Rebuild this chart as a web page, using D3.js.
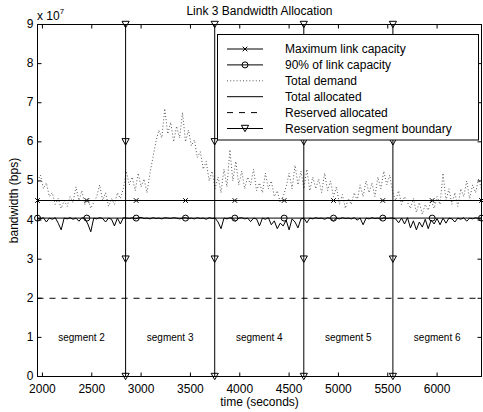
<!DOCTYPE html>
<html>
<head>
<meta charset="utf-8">
<script src="https://cdn.jsdelivr.net/npm/d3@7"></script>
<style>
  html, body { margin: 0; padding: 0; background: #fff; }
  svg { display: block; font-family: "Liberation Sans", Arial, Helvetica, sans-serif; }
</style>
</head>
<body>
<svg id="chart" width="483" height="412"></svg>
<script>
// ---------------- data (bandwidth in units of 1e7 bps) ----------------
const timeStart = 1950;
const timeStep = 30;
const demand = [
  5.0, 5.15, 4.8, 4.95, 4.6, 4.7, 4.4, 4.55, 4.3, 4.5,
  4.35, 4.6, 4.45, 4.85, 4.5, 4.75, 4.4, 4.55, 4.3, 4.45,
  4.6, 4.9, 4.5, 4.7, 4.35, 4.55, 4.4, 4.7, 4.55, 4.8,
  5.25, 4.9, 5.1, 4.75, 5.2, 4.85, 5.05, 4.7, 5.2, 5.6,
  6.0, 6.3, 6.1, 6.85, 6.2, 6.5, 6.0, 6.4, 6.1, 6.75,
  6.0, 6.3, 5.9, 6.05, 5.6, 5.75, 5.3, 5.5, 5.0, 5.25,
  4.8, 5.1, 4.7, 5.3, 4.85, 5.8, 5.0, 5.5, 4.9, 5.25,
  4.8, 5.1, 4.9, 5.3, 4.75, 4.95, 4.7, 5.2, 4.8, 5.0,
  4.6, 4.75, 4.45, 4.6, 4.85, 5.2, 4.8, 5.4, 4.9, 5.25,
  4.8, 5.3, 4.75, 5.1, 4.8, 5.05, 4.7, 5.2, 4.75, 5.0,
  4.6, 4.85, 4.4, 4.65, 4.3, 4.55, 4.4, 4.7, 4.5, 4.9,
  4.6, 5.0, 4.7, 4.95, 4.6, 5.1, 4.8, 5.25, 4.9, 5.15,
  4.7, 4.5, 4.75, 4.4, 4.6, 4.45, 4.3, 4.55, 4.2, 4.45,
  4.15, 4.4, 4.25, 4.5, 4.3, 4.6, 4.4, 5.2, 4.5, 4.8,
  4.4, 4.7, 4.35, 4.8, 4.6, 5.0, 4.55, 4.9, 4.7, 5.05,
  4.8
];
const allocated = [
  4.05, 4.03, 4.06, 3.95, 4.05, 4.02, 4.06, 3.92, 3.75, 4.05,
  4.03, 4.06, 4.02, 4.05, 3.97, 4.06, 4.04, 3.9, 3.7, 4.05,
  4.03, 4.06, 4.04, 3.95, 4.05, 4.02, 3.85, 4.05, 3.9, 4.06,
  4.05, 4.04, 4.06, 4.03, 4.05, 4.07, 4.04, 4.05, 4.03, 4.06,
  4.04, 4.05, 4.03, 4.06, 4.05, 4.04, 4.06, 4.05, 4.03, 4.05,
  4.06, 4.04, 4.05, 4.03, 4.06, 4.04, 4.05, 4.02, 4.06, 4.04,
  4.05, 3.95, 3.78, 4.05, 4.03, 4.06, 4.04, 3.97, 4.05, 4.06,
  4.03, 4.05, 3.96, 4.05, 4.03, 3.85, 4.05, 4.02, 4.06, 3.88,
  3.98, 3.78, 3.92, 3.85, 4.0, 3.75, 4.03, 3.95, 3.8, 4.03,
  4.05, 3.93, 4.05, 4.03, 4.06, 4.04, 4.05, 4.02, 4.06, 4.04,
  3.98, 4.05, 4.03, 4.06, 4.04, 4.05, 4.03, 4.06, 4.0, 4.05,
  3.88, 4.05, 4.03, 4.06, 4.04, 4.05, 4.02, 4.06, 4.04, 4.05,
  4.05, 4.03, 3.93, 4.05, 3.9, 4.06, 3.8, 3.98, 3.75, 3.95,
  3.82, 4.02, 3.78, 4.0, 3.9, 4.04, 3.88, 4.05, 3.92, 4.05,
  4.03, 3.95, 4.05, 4.02, 4.06, 3.97, 4.05, 4.03, 4.06, 4.04,
  4.05
];
const maxCapacity = 4.5;
const capacity90 = 4.05;
const reservedAllocated = 2.0;
const capMarkerTimes = [1950, 2450, 2950, 3450, 3950, 4450, 4950, 5450, 5950, 6450];
const boundaryTimes = [2843, 3746, 4649, 5552];
const boundaryMarkerValues = [0, 3, 6, 9];
const segmentLabels = ["segment 2", "segment 3", "segment 4", "segment 5", "segment 6"];
const xTicks = [2000, 2500, 3000, 3500, 4000, 4500, 5000, 5500, 6000];
const yTicks = [0, 1, 2, 3, 4, 5, 6, 7, 8, 9];
const legendLabels = ["Maximum link capacity", "90% of link capacity", "Total demand",
                      "Total allocated", "Reserved allocated", "Reservation segment boundary"];

// ---------------- layout ----------------
const svg = d3.select("#chart");
const X0 = 37.5, X1 = 481.5, Y0 = 376.5, Y1 = 24.5;
const x = d3.scaleLinear().domain([1950, 6450]).range([X0, X1]);
const y = d3.scaleLinear().domain([0, 9]).range([Y0, Y1]);
const times = demand.map((_, i) => timeStart + i * timeStep);

const plot = svg.append("g");
const line = d3.line().x(d => x(d[0])).y(d => y(d[1]));

// total demand (dotted)
plot.append("path")
  .datum(times.map((t, i) => [t, demand[i]]))
  .attr("d", line).attr("fill", "none")
  .attr("stroke", "#555").attr("stroke-width", 1).attr("stroke-dasharray", "1,2.2");

// total allocated
plot.append("path")
  .datum(times.map((t, i) => [t, allocated[i]]))
  .attr("d", line).attr("fill", "none")
  .attr("stroke", "#000").attr("stroke-width", 1);

// max capacity line
plot.append("path")
  .datum([[1950, maxCapacity], [6450, maxCapacity]])
  .attr("d", line).attr("fill", "none").attr("stroke", "#000").attr("stroke-width", 1);
// 90% line
plot.append("path")
  .datum([[1950, capacity90], [6450, capacity90]])
  .attr("d", line).attr("fill", "none").attr("stroke", "#000").attr("stroke-width", 1);
// reserved allocated
plot.append("path")
  .datum([[1950, reservedAllocated], [6450, reservedAllocated]])
  .attr("d", line).attr("fill", "none").attr("stroke", "#000").attr("stroke-width", 1)
  .attr("stroke-dasharray", "6,6");

function xMarker(g, cx, cy) {
  const s = 2.3;
  g.append("path").attr("d", `M${cx - s},${cy - s}L${cx + s},${cy + s}M${cx - s},${cy + s}L${cx + s},${cy - s}`)
    .attr("stroke", "#000").attr("stroke-width", 1).attr("fill", "none");
}
function oMarker(g, cx, cy) {
  g.append("circle").attr("cx", cx).attr("cy", cy).attr("r", 3)
    .attr("stroke", "#000").attr("stroke-width", 1).attr("fill", "none");
}
function vMarker(g, cx, cy) {
  const w = 3.6, h = 3.2;
  g.append("path").attr("d", `M${cx - w},${cy - h}L${cx + w},${cy - h}L${cx},${cy + h}Z`)
    .attr("stroke", "#000").attr("stroke-width", 1).attr("fill", "none");
}

const mk = svg.append("g");
capMarkerTimes.forEach(t => xMarker(mk, x(t), y(maxCapacity)));
capMarkerTimes.forEach(t => oMarker(mk, x(t), y(capacity90)));

// segment boundaries
const bnd = svg.append("g");
boundaryTimes.forEach(t => {
  bnd.append("line").attr("x1", x(t)).attr("x2", x(t)).attr("y1", y(0)).attr("y2", y(9))
    .attr("stroke", "#000").attr("stroke-width", 1);
  boundaryMarkerValues.forEach(v => vMarker(bnd, x(t), y(v)));
});

// segment labels
const segEdges = [1950, ...boundaryTimes, 6450];
segmentLabels.forEach((lab, i) => {
  svg.append("text").attr("x", (x(segEdges[i]) + x(segEdges[i + 1])) / 2).attr("y", 341)
    .attr("text-anchor", "middle").attr("font-size", 10).attr("fill", "#000").text(lab);
});

// axes box
const ax = svg.append("g");
ax.append("rect").attr("x", X0).attr("y", Y1).attr("width", X1 - X0).attr("height", Y0 - Y1)
  .attr("fill", "none").attr("stroke", "#000").attr("stroke-width", 1);
const tl = 4;
xTicks.forEach(t => {
  ax.append("line").attr("x1", x(t)).attr("x2", x(t)).attr("y1", Y0).attr("y2", Y0 - tl).attr("stroke", "#000");
  ax.append("line").attr("x1", x(t)).attr("x2", x(t)).attr("y1", Y1).attr("y2", Y1 + tl).attr("stroke", "#000");
  ax.append("text").attr("x", x(t)).attr("y", 393).attr("text-anchor", "middle")
    .attr("font-size", 12).text(t);
});
yTicks.forEach(v => {
  ax.append("line").attr("x1", X0).attr("x2", X0 + tl).attr("y1", y(v)).attr("y2", y(v)).attr("stroke", "#000");
  ax.append("line").attr("x1", X1).attr("x2", X1 - tl).attr("y1", y(v)).attr("y2", y(v)).attr("stroke", "#000");
  ax.append("text").attr("x", 33.5).attr("y", y(v) + 3.5).attr("text-anchor", "end")
    .attr("font-size", 12).text(v);
});

// exponent label
const ex = svg.append("text").attr("x", 37).attr("y", 19.5).attr("font-size", 12);
ex.append("tspan").text("x 10");
ex.append("tspan").attr("dy", -6).attr("font-size", 8).text("7");

// axis titles
svg.append("text").attr("x", (X0 + X1) / 2).attr("y", 15).attr("text-anchor", "middle")
  .attr("font-size", 12).text("Link 3 Bandwidth Allocation");
svg.append("text").attr("x", (X0 + X1) / 2).attr("y", 405.5).attr("text-anchor", "middle")
  .attr("font-size", 12).text("time (seconds)");
svg.append("text").attr("transform", `translate(18,${(Y0 + Y1) / 2}) rotate(-90)`)
  .attr("text-anchor", "middle").attr("font-size", 12).text("bandwidth (bps)");

// legend
const lg = svg.append("g");
lg.append("rect").attr("x", 217.5).attr("y", 34.5).attr("width", 261).attr("height", 105.5)
  .attr("fill", "#fff").attr("stroke", "#000").attr("stroke-width", 1);
legendLabels.forEach((lab, i) => {
  const cy = 49 + i * 15.9;
  const l = lg.append("line").attr("x1", 227).attr("x2", 263).attr("y1", cy).attr("y2", cy)
    .attr("stroke", "#000").attr("stroke-width", 1);
  if (i === 2) l.attr("stroke-dasharray", "1,2.2").attr("stroke", "#555");
  if (i === 4) l.attr("stroke-dasharray", "6,6");
  if (i === 0) xMarker(lg, 245, cy);
  if (i === 1) oMarker(lg, 245, cy);
  if (i === 5) vMarker(lg, 245, cy);
  lg.append("text").attr("x", 285).attr("y", cy + 4.3).attr("font-size", 12).text(lab);
});
</script>
</body>
</html>
